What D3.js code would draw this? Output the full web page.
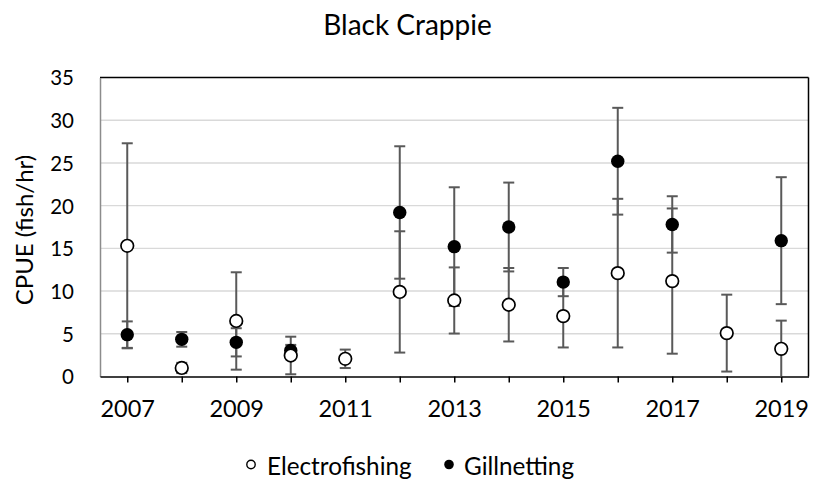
<!DOCTYPE html>
<html>
<head>
<meta charset="utf-8">
<script src="https://cdn.jsdelivr.net/npm/d3@7"></script>
<style>
  html, body { margin: 0; padding: 0; background: #fff; }
  svg { display: block; }
  text { font-family: Lato, "Open Sans", sans-serif; fill: #000; }
</style>
</head>
<body>
<svg id="chart" width="813" height="479"></svg>
<script>
// ---- data ----
const years = [2007, 2008, 2009, 2010, 2011, 2012, 2013, 2014, 2015, 2016, 2017, 2018, 2019];
const electroValues = [15.3, 1.0, 6.5, 2.46, 2.07, 9.9, 8.9, 8.4, 7.07, 12.1, 11.17, 5.08, 3.24];
const electroErrors = [12.0, 0.6, 5.7, 2.2, 1.08, 7.1, 3.87, 4.3, 3.67, 8.7, 8.5, 4.5, 3.3];
const gillValues = [4.9, 4.35, 4.0, 3.05, null, 19.2, 15.2, 17.5, 11.05, 25.2, 17.8, null, 15.9];
const gillErrors = [1.55, 0.86, 1.65, 0.65, null, 7.75, 6.95, 5.2, 1.65, 6.25, 3.3, null, 7.43];
const yTicks = [0, 5, 10, 15, 20, 25, 30, 35];
const xLabelYears = [2007, 2009, 2011, 2013, 2015, 2017, 2019];
const seriesNames = ["Electrofishing", "Gillnetting"];
const titleText = "Black Crappie";
const yAxisTitle = "CPUE (fish/hr)";

// ---- layout ----
const svg = d3.select("#chart");
const mLeft = 100, mRight = 808.5, mTop = 77.5, mBottom = 376.5;
const x = d3.scaleLinear().domain([2006.5, 2019.5]).range([mLeft, mRight]);
const y = d3.scaleLinear().domain([0, 35]).range([mBottom, mTop]);

// title
svg.append("text").attr("x", 407.5).attr("y", 35)
  .attr("text-anchor", "middle").style("font-size", "28px").text(titleText);

// gridlines
svg.append("g").selectAll("line").data(yTicks.filter(d => d > 0 && d < 35)).join("line")
  .attr("x1", mLeft).attr("x2", mRight)
  .attr("y1", d => y(d)).attr("y2", d => y(d))
  .attr("stroke", "#d9d9d9").attr("stroke-width", 1.4);

// plot border top & right
svg.append("line").attr("x1", mLeft).attr("x2", mRight).attr("y1", mTop).attr("y2", mTop)
  .attr("stroke", "#000").attr("stroke-width", 1.5);
svg.append("line").attr("x1", mRight).attr("x2", mRight).attr("y1", mTop).attr("y2", mBottom)
  .attr("stroke", "#000").attr("stroke-width", 1.5);

// y axis
const yAxis = d3.axisLeft(y).tickValues(yTicks).tickSize(0).tickPadding(26);
const gy = svg.append("g").attr("transform", `translate(${mLeft},0)`).call(yAxis);
gy.select(".domain").attr("stroke", "#8c8c8c").attr("stroke-width", 1.5);
gy.selectAll("text").style("font-size", "20.5px").attr("font-family", null)
  .attr("dy", "0.36em");

// x axis
const xAxis = d3.axisBottom(x).tickValues(years).tickSize(6).tickSizeOuter(0)
  .tickFormat(d => xLabelYears.includes(d) ? String(d) : "").tickPadding(18);
const gx = svg.append("g").attr("transform", `translate(0,${mBottom})`).call(xAxis);
gx.select(".domain").attr("stroke", "#000").attr("stroke-width", 1.5);
gx.selectAll(".tick line").attr("stroke", "#000").attr("stroke-width", 1.5);
gx.selectAll("text").style("font-size", "23.5px").attr("font-family", null);

// y axis title
svg.append("text").attr("transform", `translate(33,230) rotate(-90)`)
  .attr("text-anchor", "middle").style("font-size", "24px").text(yAxisTitle);

// error bars helper
function drawErrors(vals, errs) {
  const data = years.map((yr, i) => ({yr, v: vals[i], e: errs[i]})).filter(d => d.v !== null);
  const g = svg.append("g").attr("stroke", "#595959").attr("stroke-width", 2);
  const capW = 5.5;
  data.forEach(d => {
    const lo = Math.max(0, d.v - d.e), hi = d.v + d.e;
    g.append("line").attr("x1", x(d.yr)).attr("x2", x(d.yr)).attr("y1", y(lo)).attr("y2", y(hi));
    g.append("line").attr("x1", x(d.yr) - capW).attr("x2", x(d.yr) + capW).attr("y1", y(hi)).attr("y2", y(hi));
    if (d.v - d.e > 0)
      g.append("line").attr("x1", x(d.yr) - capW).attr("x2", x(d.yr) + capW).attr("y1", y(lo)).attr("y2", y(lo));
  });
  return data;
}

const gillData = drawErrors(gillValues, gillErrors);
const electroData = drawErrors(electroValues, electroErrors);

svg.append("g").selectAll("circle").data(gillData).join("circle")
  .attr("cx", d => x(d.yr)).attr("cy", d => y(d.v)).attr("r", 6.7)
  .attr("fill", "#000");
svg.append("g").selectAll("circle").data(electroData).join("circle")
  .attr("cx", d => x(d.yr)).attr("cy", d => y(d.v)).attr("r", 6.3)
  .attr("fill", "#fff").attr("stroke", "#000").attr("stroke-width", 1.7);

// legend
const lg = svg.append("g");
lg.append("circle").attr("cx", 251).attr("cy", 464.5).attr("r", 4.2)
  .attr("fill", "#fff").attr("stroke", "#000").attr("stroke-width", 1.4);
lg.append("text").attr("x", 267).attr("y", 475).style("font-size", "24.3px").text(seriesNames[0]);
lg.append("circle").attr("cx", 449).attr("cy", 464.5).attr("r", 4.8).attr("fill", "#000");
lg.append("text").attr("x", 464).attr("y", 475).style("font-size", "24.3px").text(seriesNames[1]);
</script>
</body>
</html>
